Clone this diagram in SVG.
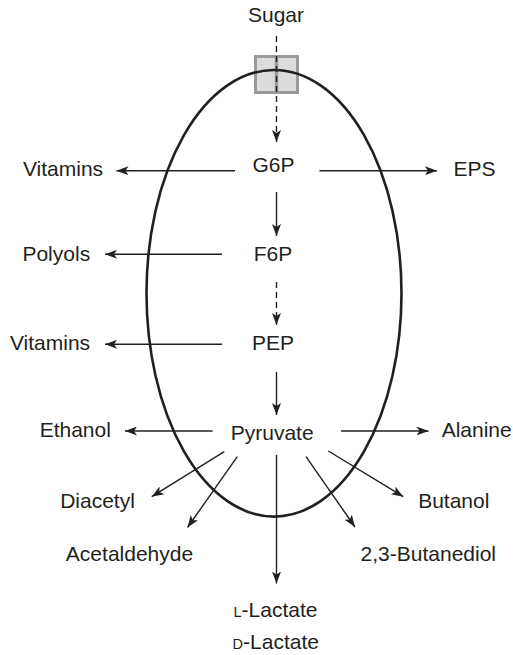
<svg xmlns="http://www.w3.org/2000/svg" width="513" height="655" viewBox="0 0 513 655">
<style>
text{font-family:"Liberation Sans",Arial,sans-serif;font-size:21px;fill:#231f20;text-anchor:middle}
.ln{stroke:#231f20;stroke-width:1.4;fill:none;marker-end:url(#ah)}
.ds{stroke-dasharray:6,4}
</style>
<defs>
<marker id="ah" viewBox="0 0 12 9" refX="12" refY="4.5" markerWidth="12" markerHeight="9" markerUnits="userSpaceOnUse" orient="auto">
<path d="M0,0 L12,4.5 L0,9 L3,4.5 z" fill="#231f20"/>
</marker>
</defs>
<g id="cell">
<rect x="255.5" y="56.5" width="42" height="36" fill="#dcdcdc" stroke="#9a9a9a" stroke-width="3"/>
<line x1="276.5" y1="56" x2="276.5" y2="93" stroke="#9a9a9a" stroke-width="3.5"/>
<ellipse cx="274" cy="293.3" rx="127.5" ry="223.3" fill="none" stroke="#231f20" stroke-width="2.6"/>
</g>
<g id="connectors">
<line class="ln ds" x1="276.5" y1="36" x2="276.5" y2="142"/>
<line class="ln" x1="276.5" y1="192" x2="276.5" y2="236"/>
<line class="ln ds" x1="276.5" y1="282" x2="276.5" y2="325"/>
<line class="ln" x1="276.5" y1="372" x2="276.5" y2="415"/>
<line class="ln" x1="235" y1="170.7" x2="116.5" y2="170.7"/>
<line class="ln" x1="319.5" y1="170.7" x2="437" y2="170.7"/>
<line class="ln" x1="222" y1="254.3" x2="105" y2="254.3"/>
<line class="ln" x1="222" y1="344.3" x2="105" y2="344.3"/>
<line class="ln" x1="212.5" y1="431" x2="125" y2="431"/>
<line class="ln" x1="341" y1="431" x2="428.5" y2="431"/>
<line class="ln" x1="224.3" y1="451.7" x2="151.7" y2="496.7"/>
<line class="ln" x1="237.3" y1="456.7" x2="187.5" y2="527.5"/>
<line class="ln" x1="276.5" y1="455" x2="276.5" y2="583.5"/>
<line class="ln" x1="306" y1="456.7" x2="355" y2="527"/>
<line class="ln" x1="328.3" y1="451" x2="403.3" y2="496.7"/>
</g>
<g id="sugar"><text x="276" y="22">Sugar</text></g>
<g id="g6p"><text x="273.5" y="171.7">G6P</text></g>
<g id="vitamins1"><text x="63" y="176">Vitamins</text></g>
<g id="eps"><text x="474.5" y="176">EPS</text></g>
<g id="f6p"><text x="273" y="260.5">F6P</text></g>
<g id="polyols"><text x="56.3" y="260.5">Polyols</text></g>
<g id="pep"><text x="273" y="350">PEP</text></g>
<g id="vitamins2"><text x="50" y="350">Vitamins</text></g>
<g id="pyruvate"><text x="272.2" y="440">Pyruvate</text></g>
<g id="ethanol"><text x="75.3" y="437">Ethanol</text></g>
<g id="alanine"><text x="476.7" y="437">Alanine</text></g>
<g id="diacetyl"><text x="97.5" y="507.7">Diacetyl</text></g>
<g id="butanol"><text x="453.8" y="507.7">Butanol</text></g>
<g id="acetaldehyde"><text x="129.5" y="561">Acetaldehyde</text></g>
<g id="butanediol"><text x="428.3" y="561">2,3-Butanediol</text></g>
<g id="llactate"><text x="275.5" y="616.7"><tspan font-size="14.5">L</tspan>-Lactate</text></g>
<g id="dlactate"><text x="275.8" y="649.3"><tspan font-size="14.5">D</tspan>-Lactate</text></g>
</svg>
